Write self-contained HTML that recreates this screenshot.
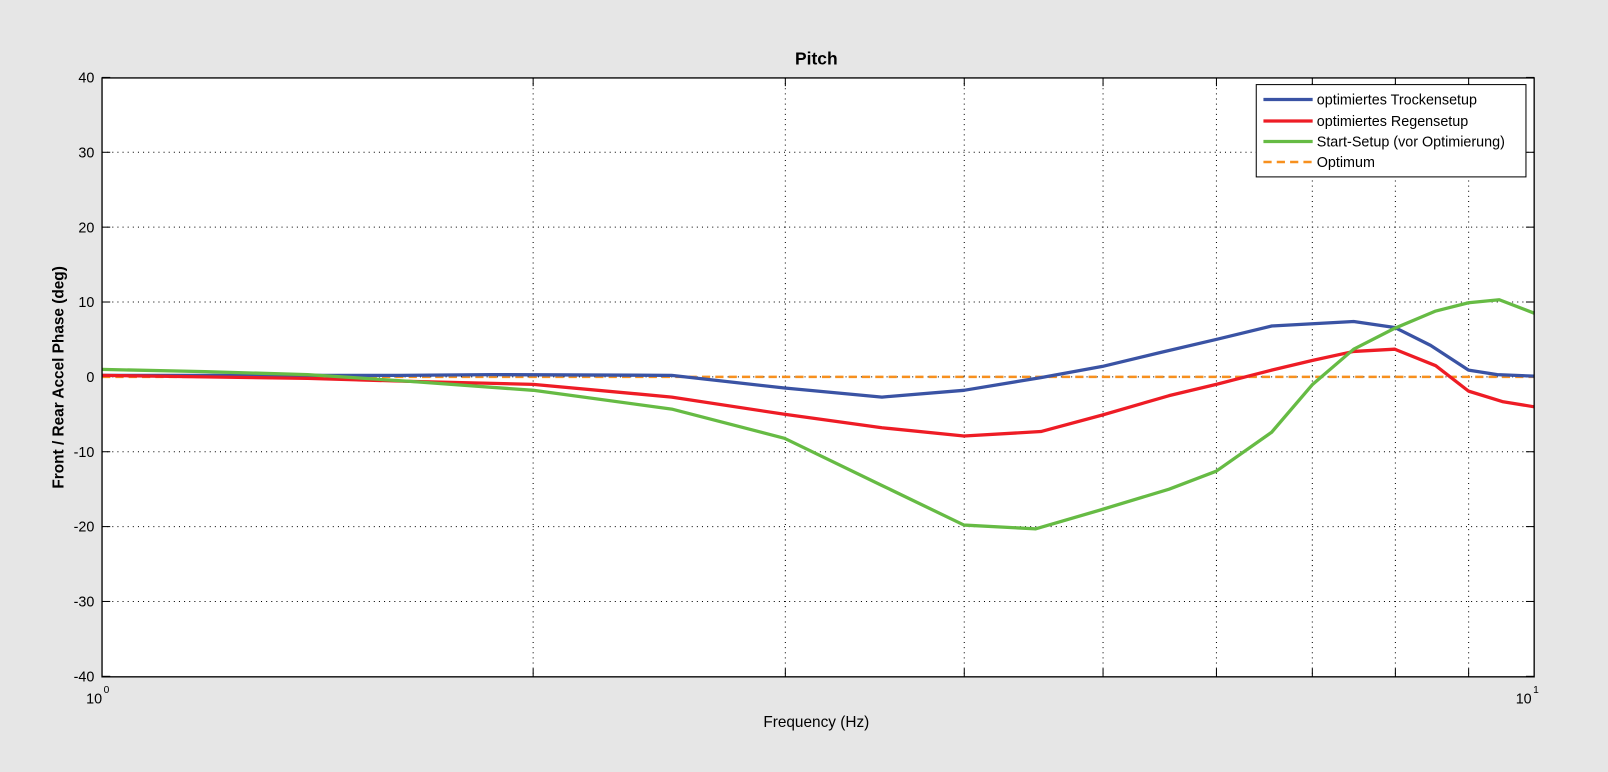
<!DOCTYPE html>
<html><head><meta charset="utf-8"><style>
html,body{margin:0;padding:0;background:#e6e6e6;overflow:hidden}
svg{display:block}
text{font-family:"Liberation Sans",Arial,sans-serif}
</style></head><body>
<svg width="1608" height="772" viewBox="0 0 1568 752.8" preserveAspectRatio="none" xmlns="http://www.w3.org/2000/svg">
<rect x="0" y="0" width="1568" height="753" fill="#e6e6e6"/>
<rect x="99.5" y="76" width="1396.5" height="584" fill="#fff"/>
<g id="grid" stroke="#000" stroke-width="1" stroke-dasharray="1,4"></g>
<g id="ticks" stroke="#000" stroke-width="1"></g>
<g id="series" fill="none" stroke-width="3.2" stroke-linejoin="round"></g>
<rect x="99.5" y="76" width="1396.5" height="584" fill="none" stroke="#000" stroke-width="1.3"/>
<g id="labels" font-size="13" fill="#000"></g>
<text x="796" y="63" font-size="17" font-weight="bold" text-anchor="middle">Pitch</text>
<text x="796" y="709" font-size="15" text-anchor="middle">Frequency (Hz)</text>
<text transform="translate(62,368) rotate(-90)" font-size="15" font-weight="bold" text-anchor="middle">Front / Rear Accel Phase (deg)</text>
<text x="84" y="686" font-size="14">10</text><text x="101" y="676" font-size="10">0</text>
<text x="1478" y="686" font-size="14">10</text><text x="1495" y="676" font-size="10">1</text>
<g>
<rect x="1225" y="82.5" width="263" height="90" fill="#fff" stroke="#000" stroke-width="1"/>
<line x1="1232" y1="97" x2="1280" y2="97" stroke="#3a53a4" stroke-width="3.2"/>
<line x1="1232" y1="118" x2="1280" y2="118" stroke="#ee1c25" stroke-width="3.2"/>
<line x1="1232" y1="138" x2="1280" y2="138" stroke="#66bb44" stroke-width="3.2"/>
<line x1="1232" y1="158" x2="1280" y2="158" stroke="#f7901e" stroke-width="2.5" stroke-dasharray="8,5"/>
<g font-size="14"><text x="1284" y="102">optimiertes Trockensetup</text>
<text x="1284" y="123">optimiertes Regensetup</text>
<text x="1284" y="143">Start-Setup (vor Optimierung)</text>
<text x="1284" y="163">Optimum</text></g>
</g>
</svg>
<script>
const NS="http://www.w3.org/2000/svg";
const X0=99.5,X1=1496,Y0=76,Y1=660;
const yv=v=>367.5-v*7.3;
function el(p,t,a,txt){const e=document.createElementNS(NS,t);for(const k in a)e.setAttribute(k,a[k]);if(txt!=null)e.textContent=txt;document.getElementById(p).appendChild(e);}
for(let k=2;k<=9;k++){const x=X0+(X1-X0)*Math.log10(k);
 el("grid","line",{x1:x,y1:Y0,x2:x,y2:Y1});
 el("ticks","line",{x1:x,y1:Y0,x2:x,y2:Y0+8});el("ticks","line",{x1:x,y1:Y1,x2:x,y2:Y1-8});}
for(let v=-40;v<=40;v+=10){const y=yv(v);
 if(v>-40&&v<40)el("grid","line",{x1:X0,y1:y,x2:X1,y2:y});
 el("ticks","line",{x1:X0,y1:y,x2:X0+8,y2:y});el("ticks","line",{x1:X1,y1:y,x2:X1-8,y2:y});
 el("labels","text",{x:92,y:y+5,"text-anchor":"end","font-size":"14"},String(v));}
const blue=[[99,.2],[390,.2],[480,.3],[655,.2],[765,-1.5],[860,-2.7],[940,-1.8],[1015,-.1],[1075,1.4],[1130,3.2],[1186,5],[1240,6.8],[1280,7.1],[1320,7.4],[1360,6.6],[1395,4.2],[1432,.9],[1460,.3],[1496,.1]];
const red=[[99,.2],[300,-.2],[400,-.6],[520,-1],[655,-2.7],[765,-5],[860,-6.8],[940,-7.9],[1015,-7.3],[1075,-5.1],[1140,-2.5],[1186,-1],[1240,.9],[1280,2.2],[1320,3.4],[1360,3.7],[1400,1.5],[1432,-1.9],[1465,-3.3],[1496,-4]];
const green=[[99,1],[200,.7],[300,.3],[400,-.6],[520,-1.8],[655,-4.3],[765,-8.2],[860,-14.5],[940,-19.8],[1010,-20.3],[1075,-17.7],[1140,-15],[1186,-12.6],[1240,-7.4],[1280,-1],[1320,3.7],[1360,6.5],[1400,8.8],[1432,9.9],[1462,10.3],[1496,8.5]];
const pts=a=>a.map(p=>p[0]+","+yv(p[1]).toFixed(1)).join(" ");
el("series","line",{x1:X0,y1:yv(0),x2:X1,y2:yv(0),stroke:"#f7901e","stroke-width":"2.5","stroke-dasharray":"8,5"});
el("series","polyline",{points:pts(blue),stroke:"#3a53a4"});
el("series","polyline",{points:pts(red),stroke:"#ee1c25"});
el("series","polyline",{points:pts(green),stroke:"#66bb44"});
</script>
</body></html>
